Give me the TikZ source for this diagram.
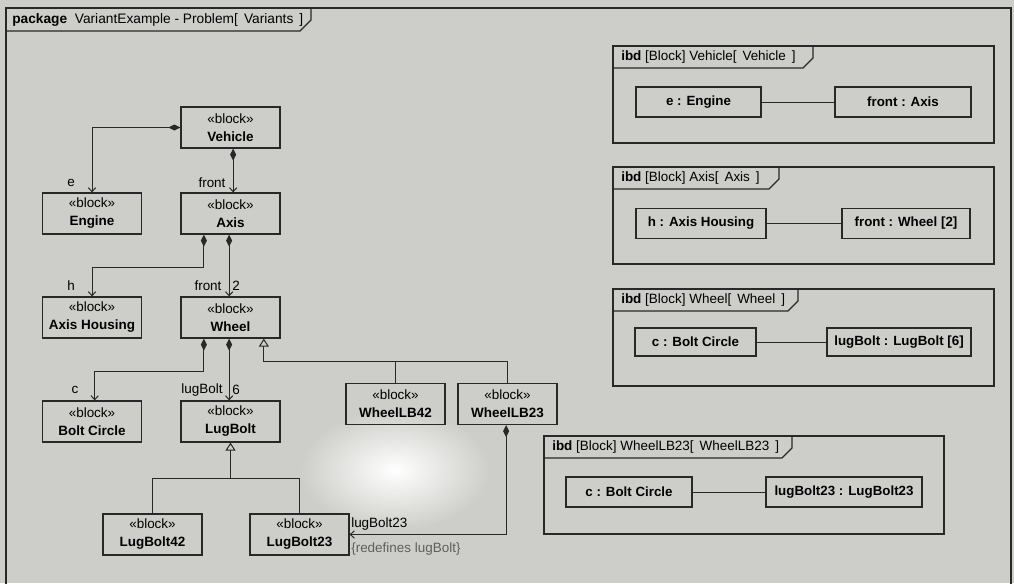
\documentclass[tikz,border=0pt]{standalone}
\usepackage{fontspec}
\setmainfont{Liberation Sans}
\usetikzlibrary{arrows.meta,calc}

\definecolor{bgcol}{RGB}{205,205,201}
\definecolor{linecol}{RGB}{40,40,40}
\definecolor{notecol}{RGB}{95,95,95}

\begin{document}
\begin{tikzpicture}[x=0.75pt, y=-0.75pt,
    font=\fontsize{10.1}{13.5}\selectfont,
    block/.style={draw=linecol, line width=0.9pt, minimum width=74.25pt,
      minimum height=30.75pt, align=center, inner sep=0pt},
    part/.style={draw=linecol, line width=0.9pt, inner sep=0pt,
      minimum height=22.5pt, font=\fontsize{10}{11}\selectfont\bfseries},
    frame/.style={draw=linecol, line width=0.9pt},
    lbl/.style={inner sep=0pt},
    link/.style={draw=linecol, line width=0.75pt},
    comp/.style={link, arrows={Diamond[length=9pt,width=4.5pt]-Straight Barb[length=3pt,width=5.5pt]}},
    gen/.style={link, arrows={-Triangle[open,length=6pt,width=7.5pt,fill=bgcol]}}
  ]

% background
\fill[bgcol] (0,0) rectangle (1014,583);
\shade[inner color=white, outer color=bgcol] (395,470) ellipse (95 and 60);
\useasboundingbox (0,0) rectangle (1014,583);

% package frame
\draw[frame] (6,8) rectangle (1011,590);
\draw[frame] (6,31) -- (300,31) -- (311,20) -- (311,8);
\node[lbl, anchor=west] (pkgtitle) at (12,20) {\fontsize{10.3}{12}\selectfont\textbf{package}\ \ VariantExample - Problem[ \,Variants \,]};

% blocks
\node[block] (veh)   at (230.5,127.5) {«block»\\\textbf{Vehicle}};
\node[block] (eng)   at (92,213.5)    {«block»\\\textbf{Engine}};
\node[block] (axis)  at (230.5,213.5) {«block»\\\textbf{Axis}};
\node[block] (hous)  at (92,317.5)    {«block»\\\textbf{Axis Housing}};
\node[block] (wheel) at (230.5,317.5) {«block»\\\textbf{Wheel}};
\node[block] (bolt)  at (92,421.5)    {«block»\\\textbf{Bolt Circle}};
\node[block] (lug)   at (230.5,421.5) {«block»\\\textbf{LugBolt}};
\node[block] (lb42)  at (152.5,534.5) {«block»\\\textbf{LugBolt42}};
\node[block] (lb23)  at (299.5,534.5) {«block»\\\textbf{LugBolt23}};
\node[block] (wlb42) at (395.5,404)   {«block»\\\textbf{WheelLB42}};
\node[block] (wlb23) at (507.5,404)   {«block»\\\textbf{WheelLB23}};

% composition
\draw[comp] (veh.west) -| (eng.north);
\draw[comp] ([xshift=2pt]veh.south) -- ([xshift=2pt]axis.north);
\draw[comp] ([xshift=-20pt]axis.south) -- ++(0,33) -| (hous.north);
\draw[comp] ([xshift=-1pt]axis.south) -- ([xshift=-1pt]wheel.north);
\draw[comp] ([xshift=-20pt]wheel.south) -- ++(0,33) -| ([xshift=2pt]bolt.north);
\draw[comp] ([xshift=-1pt]wheel.south) -- ([xshift=-1pt]lug.north);
\draw[comp] ([xshift=-1pt]wlb23.south) |- (lb23.east);

% generalization
\draw[gen] (wlb23.north) -- ++(0,-21) coordinate (wbus) -| ([xshift=25pt]wheel.south);
\draw[link] (wlb42.north) -- (wlb42.north |- wbus);
\draw[gen] (lb23.north) -- ++(0,-35) coordinate (lbus) -| (lug.south);
\draw[link] (lb42.north) |- (lbus);

% role names
\node[lbl] (le)    at (71,183)  {e};
\node[lbl] (lfr1)  at (212,183) {front};
\node[lbl] (lh)    at (71,286)  {h};
\node[lbl] (lfr2)  at (208,286) {front};
\node[lbl] (lm2)   at (236,286) {2};
\node[lbl] (lc)    at (75,390)  {c};
\node[lbl] (llug)  at (202,390) {lugBolt};
\node[lbl] (lm6)   at (236,390) {6};
\node[lbl, anchor=west] (llug23) at (351,524) {lugBolt23};
\node[lbl, anchor=west, text=notecol] (lredef) at (351,549) {\{redefines lugBolt\}};

% ibd Vehicle
\draw[frame] (613,46) rectangle (994,143);
\draw[frame] (613,68) -- (803,68) -- (813,58) -- (813,46);
\node[lbl, anchor=west] (vehtitle) at (621,57) {\textbf{ibd}\ [Block] Vehicle[ \,Vehicle \,]};
\node[part, minimum width=93.75pt] (peng)  at (698.5,102) {e : Engine};
\node[part, minimum width=102pt]   (paxis) at (903,102)   {front : Axis};
\draw[link] (peng.east) -- (paxis.west);

% ibd Axis
\draw[frame] (613,167) rectangle (994,264);
\draw[frame] (613,189) -- (769,189) -- (779,179) -- (779,167);
\node[lbl, anchor=west] (axistitle) at (621,178) {\textbf{ibd}\ [Block] Axis[ \,Axis \,]};
\node[part, minimum width=97.5pt] (phous)  at (701,223.5) {h : Axis Housing};
\node[part, minimum width=96pt]   (pwheel) at (906,223.5) {front : Wheel [2]};
\draw[link] (phous.east) -- (pwheel.west);

% ibd Wheel
\draw[frame] (613,289) rectangle (994,386);
\draw[frame] (613,311) -- (788,311) -- (798,301) -- (798,289);
\node[lbl, anchor=west] (wheeltitle) at (621,300) {\textbf{ibd}\ [Block] Wheel[ \,Wheel \,]};
\node[part, minimum width=90.75pt, minimum height=21pt] (pbolt) at (695.5,342) {c : Bolt Circle};
\node[part, minimum width=108pt, minimum height=21pt]   (plug)  at (899,342)   {lugBolt : LugBolt [6]};
\draw[link] (pbolt.east) -- (plug.west);

% ibd WheelLB23
\draw[frame] (544,436) rectangle (944,534);
\draw[frame] (544,458) -- (782,458) -- (792,448) -- (792,436);
\node[lbl, anchor=west] (wlbtitle) at (552,447) {\textbf{ibd}\ [Block] WheelLB23[ \,WheelLB23 \,]};
\node[part, minimum width=94.5pt] (pbolt23) at (629,492) {c : Bolt Circle};
\node[part, minimum width=117pt]  (plug23)  at (844,492) {lugBolt23 : LugBolt23};
\draw[link] (pbolt23.east) -- (plug23.west);

\end{tikzpicture}
\end{document}
